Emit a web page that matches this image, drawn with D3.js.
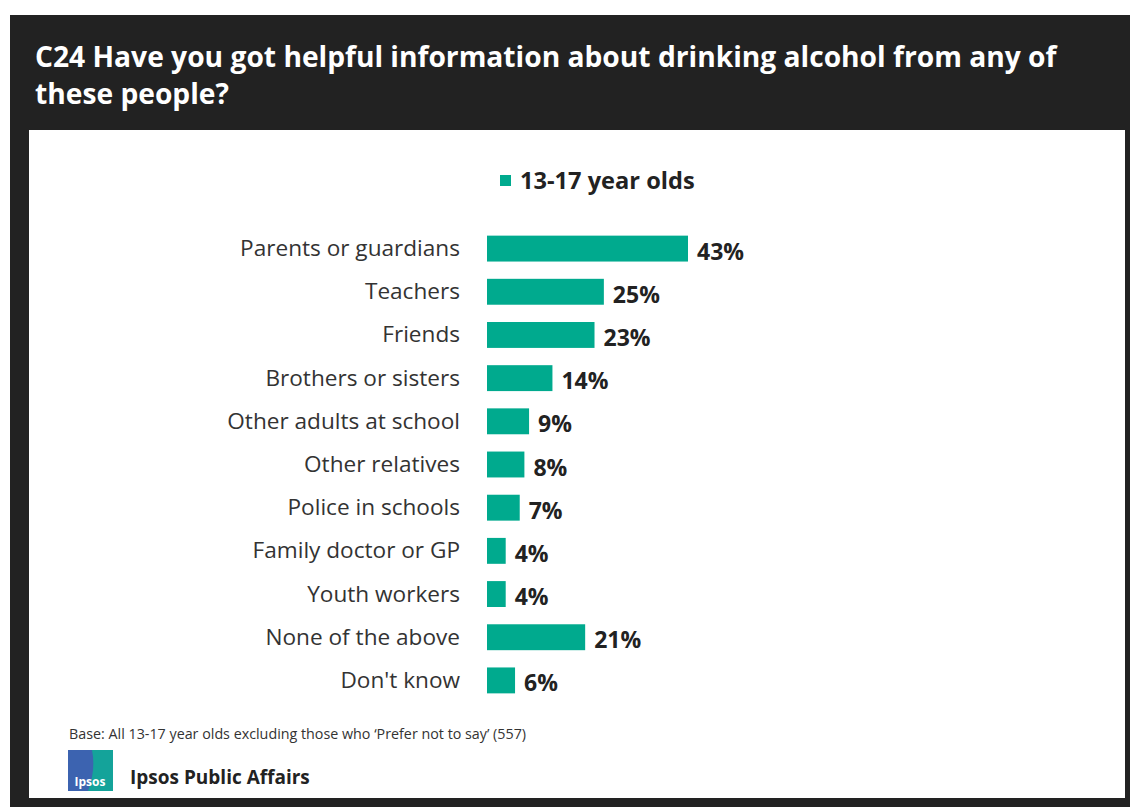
<!DOCTYPE html>
<html><head><meta charset="utf-8">
<script src="https://cdn.jsdelivr.net/npm/d3@7"></script>
<style>
html,body{margin:0;padding:0;background:#fff;}
svg{display:block;}
</style></head>
<body>
<script>
const categories = ["Parents or guardians","Teachers","Friends","Brothers or sisters","Other adults at school","Other relatives","Police in schools","Family doctor or GP","Youth workers","None of the above","Don't know"];
const values = [43,25,23,14,9,8,7,4,4,21,6];
const seriesName = "13-17 year olds";
const titleLines = ["C24 Have you got helpful information about drinking alcohol from any of","these people?"];
const baseNote = "Base:  All 13-17 year olds excluding those who \u2018Prefer not to say\u2019 (557)";
const brand = "Ipsos Public Affairs";

const W = 1130, H = 807;
const font = "'Open Sans', 'Noto Sans', sans-serif";
const barColor = "#00AA8E";
const svg = d3.select("body").append("svg").attr("width", W).attr("height", H);

svg.append("rect").attr("x",10).attr("y",15).attr("width",W-10).attr("height",H-15).attr("fill","#222222");
svg.append("rect").attr("x",29).attr("y",130).attr("width",1096).attr("height",668).attr("fill","#ffffff");

const title = svg.append("text").attr("fill","#fff").attr("font-family",font).attr("font-weight","bold").attr("font-size",28.2);
titleLines.forEach((t,i)=>{
  title.append("tspan").attr("x",35).attr("y",67+i*37).text(t);
});

// legend
svg.append("rect").attr("x",500).attr("y",175).attr("width",11).attr("height",11).attr("fill",barColor);
svg.append("text").attr("x",520).attr("y",189).attr("font-family",font).attr("font-weight","bold").attr("font-size",23.6).attr("fill","#222").text(seriesName);

const x = d3.scaleLinear().domain([0,43]).range([487,688]);
const y = d3.scaleBand().domain(categories).range([227,702]).paddingInner(0.4).paddingOuter(0.2);

const g = svg.append("g");
g.selectAll("rect.bar").data(categories).join("rect").attr("class","bar")
  .attr("x",x(0)).attr("y",d=>y(d)).attr("height",y.bandwidth())
  .attr("width",(d,i)=>x(values[i])-x(0)).attr("fill",barColor);

g.selectAll("text.cat").data(categories).join("text").attr("class","cat")
  .attr("x",460).attr("y",d=>y(d)+y.bandwidth()/2).attr("dy","0.33em")
  .attr("text-anchor","end").attr("font-family",font).attr("font-size",22.6).attr("fill","#333")
  .text(d=>d);

g.selectAll("text.val").data(categories).join("text").attr("class","val")
  .attr("x",(d,i)=>x(values[i])+9).attr("y",d=>y(d)+y.bandwidth()/2).attr("dy","0.48em")
  .attr("font-family",font).attr("font-weight","bold").attr("font-size",23).attr("fill","#222")
  .text((d,i)=>values[i]+"%");

svg.append("text").attr("x",69).attr("y",739).attr("font-family",font).attr("font-size",14.3).attr("fill","#333").text(baseNote);

// logo
const logo = svg.append("g");
logo.append("rect").attr("x",68).attr("y",750).attr("width",45).attr("height",41).attr("fill","#3C63B0");
logo.append("path").attr("d","M92,750 L113,750 L113,791 L88,791 Q96,770 92,750 Z").attr("fill","#14A39A");
logo.append("text").attr("x",90).attr("y",786).attr("text-anchor","middle").attr("font-family",font).attr("font-size",12).attr("font-weight","bold").attr("fill","#fff").text("Ipsos");
svg.append("text").attr("x",130).attr("y",784).attr("font-family",font).attr("font-weight","bold").attr("font-size",19).attr("fill","#222").text(brand);
</script>
</body></html>
